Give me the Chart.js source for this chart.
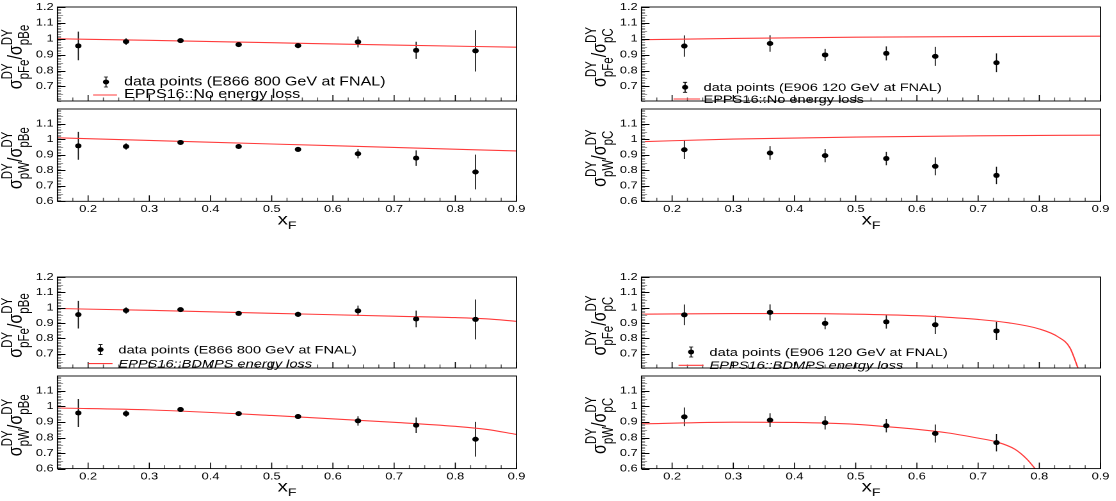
<!DOCTYPE html>
<html>
<head>
<meta charset="utf-8">
<script src="https://cdn.jsdelivr.net/npm/chart.js@4.4.1/dist/chart.umd.min.js"></script>
<style>
  html, body { margin: 0; padding: 0; background: #fff; }
  #wrap { position: relative; width: 1116px; height: 501px; overflow: hidden; }
  canvas { position: absolute; transform-origin: 0 0; }
</style>
</head>
<body>
<div id="wrap"></div>
<script>
const FONT = '"Liberation Sans", Arial, Helvetica, sans-serif';
const S = 1.28;     // the original picture is stretched sideways
const AXW = 57.5;   // room left of each frame for labels + title (page px)

// tick labels
const xTicks = [0.2, 0.3, 0.4, 0.5, 0.6, 0.7, 0.8, 0.9];
const yTicks = [0.6, 0.7, 0.8, 0.9, 1.0, 1.1, 1.2];

// E866, 800 GeV at FNAL
const x866 = [0.184, 0.262, 0.351, 0.446, 0.543, 0.641, 0.736, 0.833];
const feBe = [0.955, 0.982, 0.988, 0.963, 0.957, 0.980, 0.927, 0.924];
const feBeErr = [0.090, 0.021, 0.012, 0.010, 0.017, 0.034, 0.054, 0.130];
const wBe = [0.958, 0.954, 0.980, 0.954, 0.935, 0.907, 0.879, 0.789];
const wBeErr = [0.090, 0.021, 0.012, 0.011, 0.016, 0.030, 0.050, 0.112];

// E906, 120 GeV at FNAL
const x906 = [0.22, 0.36, 0.45, 0.55, 0.63, 0.73];
const feC = [0.954, 0.970, 0.898, 0.908, 0.889, 0.849];
const feCErr = [0.067, 0.052, 0.038, 0.044, 0.060, 0.059];
const wC = [0.933, 0.912, 0.895, 0.876, 0.826, 0.767];
const wCErr = [0.060, 0.044, 0.043, 0.043, 0.058, 0.056];

// EPPS16, no energy loss
const xNoLoss = [0.15, 0.3, 0.5, 0.7, 0.9];
const noLossFeBe = [1.0, 0.99, 0.975, 0.96, 0.947];
const noLossWBe = [1.01, 0.993, 0.97, 0.948, 0.925];
const noLossFeC = [0.994, 1.002, 1.01, 1.014, 1.016];
const noLossWC = [0.985, 1.002, 1.015, 1.023, 1.027];

// EPPS16 + BDMPS energy loss
const xBd866 = [0.15, 0.3, 0.5, 0.7, 0.8, 0.85, 0.9];
const bdFeBe = [0.995, 0.983, 0.964, 0.945, 0.936, 0.928, 0.912];
const bdWBe = [0.99, 0.978, 0.942, 0.898, 0.872, 0.853, 0.82];
const xBdFeC = [0.15, 0.3, 0.4, 0.5, 0.6, 0.65, 0.7, 0.75, 0.8, 0.83, 0.85, 0.863];
const bdFeC = [0.958, 0.962, 0.962, 0.958, 0.948, 0.938, 0.924, 0.902, 0.862, 0.812, 0.74, 0.61];
const xBdWC = [0.15, 0.3, 0.4, 0.5, 0.55, 0.6, 0.65, 0.7, 0.73, 0.76, 0.78, 0.793];
const bdWC = [0.888, 0.899, 0.897, 0.885, 0.87, 0.853, 0.83, 0.796, 0.772, 0.725, 0.66, 0.6];

const pts = (xs, ys) => xs.map((v, i) => ({ x: v, y: ys[i] }));
const fmt = v => Math.abs(v - 1) < 1e-9 ? '1' : v.toFixed(1);

// rotated y title  sigma^DY_num / sigma^DY_den
function yTitle(ctx, x, y, num, den, size) {
  const small = size * 0.72;
  const big = size + 'px ' + FONT, sm = small + 'px ' + FONT;
  ctx.save();
  ctx.translate(x, y);
  ctx.rotate(-Math.PI / 2);
  ctx.fillStyle = '#000';
  ctx.textAlign = 'left';
  ctx.textBaseline = 'alphabetic';
  ctx.font = big;
  const wSig = ctx.measureText('σ').width, wSl = ctx.measureText('/').width;
  ctx.font = sm;
  const wDY = ctx.measureText('DY').width;
  const wN = Math.max(wDY, ctx.measureText(num).width);
  const wD = Math.max(wDY, ctx.measureText(den).width);
  let t = -(2 * wSig + wN + wD + wSl) / 2;
  ctx.font = big; ctx.fillText('σ', t, 0); t += wSig;
  ctx.font = sm; ctx.fillText('DY', t, -size * 0.48); ctx.fillText(num, t, size * 0.32); t += wN;
  ctx.font = big; ctx.fillText('/', t, 0); t += wSl;
  ctx.fillText('σ', t, 0); t += wSig;
  ctx.font = sm; ctx.fillText('DY', t, -size * 0.48); ctx.fillText(den, t, size * 0.32);
  ctx.restore();
}

function panel(p) {
  const left = p.L - AXW;
  const top = p.T - 8;
  const w = Math.round((p.R - left + 16) / S);
  const xAxisH = p.lower ? 34 : 0;
  const h = Math.round(p.B - p.T + 8 + xAxisH + 2);
  const padBottom = h - 8 - (p.B - p.T) - xAxisH;
  const cx = v => (v - left) / S;
  const cy = v => v - top;

  const cv = document.createElement('canvas');
  cv.width = w; cv.height = h;
  cv.style.left = left + 'px';
  cv.style.top = top + 'px';
  cv.style.transform = 'scaleX(' + S + ')';
  document.getElementById('wrap').appendChild(cv);

  const deco = {
    id: 'deco',
    beforeDatasetsDraw(chart) {
      const { ctx, chartArea: a, scales: { x, y } } = chart;
      ctx.save();
      ctx.beginPath(); ctx.rect(a.left, a.top, a.right - a.left, a.bottom - a.top); ctx.clip();
      ctx.strokeStyle = '#111'; ctx.lineWidth = 0.85;
      p.px.forEach((xv, i) => {
        const xx = x.getPixelForValue(xv);
        ctx.beginPath();
        ctx.moveTo(xx, y.getPixelForValue(p.py[i] - p.pe[i]));
        ctx.lineTo(xx, y.getPixelForValue(p.py[i] + p.pe[i]));
        ctx.stroke();
      });
      ctx.restore();
    },
    afterDraw(chart) {
      const { ctx, chartArea: a, scales: { x, y } } = chart;
      ctx.save();
      // y ticks, inside
      for (let k = Math.ceil(p.ymin * 100 - 1e-6); k <= Math.floor(p.ymax * 100 + 1e-6); k++) {
        const yy = Math.round(y.getPixelForValue(k / 100)) + 0.5;
        const major = k % 10 === 0, mid = k % 5 === 0;
        ctx.strokeStyle = major ? '#000' : '#999';
        ctx.lineWidth = 1;
        ctx.beginPath();
        ctx.moveTo(a.left, yy);
        ctx.lineTo(a.left + (major ? 8 : mid ? 5.5 : 3.5) / S, yy);
        ctx.stroke();
      }
      // x ticks along the bottom of the frame
      for (let k = Math.ceil(p.xmin * 40 - 1e-6); k <= Math.floor(p.xmax * 40 + 1e-6); k++) {
        const xx = x.getPixelForValue(k / 40);
        const major = k % 4 === 0;
        ctx.strokeStyle = major ? '#000' : '#555';
        ctx.lineWidth = 0.8;
        ctx.beginPath();
        ctx.moveTo(xx, a.bottom);
        ctx.lineTo(xx, a.bottom - (major ? 6 : 3.5));
        ctx.stroke();
      }
      // frame
      ctx.strokeStyle = '#000';
      ctx.lineWidth = 0.9;
      ctx.strokeRect(a.left, a.top, a.right - a.left, a.bottom - a.top);

      yTitle(ctx, cx(p.L - 35.5), (a.top + a.bottom) / 2 + 3, p.num, p.den, 16);

      if (p.lower) {
        ctx.fillStyle = '#000';
        ctx.textBaseline = 'alphabetic';
        ctx.font = '16px ' + FONT;
        const wx = ctx.measureText('x').width;
        ctx.font = '11px ' + FONT;
        const wf = ctx.measureText('F').width;
        const x0 = (a.left + a.right) / 2 - (wx + wf) / 2;
        const yb = a.bottom + 23;
        ctx.font = '16px ' + FONT; ctx.fillText('x', x0, yb);
        ctx.font = '11px ' + FONT; ctx.fillText('F', x0 + wx, yb + 4.5);
      }

      const g = p.legend;
      if (g) {
        // marker with error bar
        const mx = cx(g.mx), my = cy(g.my);
        ctx.strokeStyle = '#000'; ctx.lineWidth = 0.85;
        ctx.beginPath();
        ctx.moveTo(mx, my - 5); ctx.lineTo(mx, my + 5);
        ctx.moveTo(mx - 1.6, my - 5); ctx.lineTo(mx + 1.6, my - 5);
        ctx.moveTo(mx - 1.6, my + 5); ctx.lineTo(mx + 1.6, my + 5);
        ctx.stroke();
        ctx.fillStyle = '#000';
        ctx.beginPath(); ctx.arc(mx, my, 2.4, 0, Math.PI * 2); ctx.fill();
        // line sample
        ctx.strokeStyle = '#ff3b3b'; ctx.lineWidth = 1.1;
        ctx.beginPath(); ctx.moveTo(cx(g.lx1), cy(g.ly)); ctx.lineTo(cx(g.lx2), cy(g.ly)); ctx.stroke();
        ctx.fillStyle = '#000';
        ctx.textAlign = 'left';
        ctx.textBaseline = 'alphabetic';
        ctx.font = g.size + 'px ' + FONT;
        ctx.fillText(g.t1, cx(g.tx), cy(g.b1));
        ctx.font = (g.italic ? 'italic ' : '') + g.size + 'px ' + FONT;
        ctx.fillText(g.t2, cx(g.tx), cy(g.b2));
      }
      ctx.restore();
    }
  };

  new Chart(cv, {
    type: 'scatter',
    data: {
      datasets: [
        {
          data: pts(p.px, p.py), showLine: false, order: 0,
          pointRadius: 2.5, pointBorderWidth: 0,
          pointBackgroundColor: '#000', pointBorderColor: '#000'
        },
        {
          data: pts(p.cxs, p.cys), showLine: true, order: 1,
          borderColor: '#ff3b3b', borderWidth: 1.1, pointRadius: 0,
          cubicInterpolationMode: 'monotone'
        }
      ]
    },
    options: {
      responsive: false,
      animation: false,
      devicePixelRatio: 2,
      events: [],
      layout: { padding: { top: 8, right: w - (p.R - left) / S, bottom: padBottom, left: 0 } },
      plugins: { legend: { display: false }, tooltip: { enabled: false } },
      scales: {
        x: {
          type: 'linear', min: p.xmin, max: p.xmax, display: p.lower,
          afterFit: s => { s.height = xAxisH; },
          afterBuildTicks: s => { s.ticks = xTicks.map(v => ({ value: v })); },
          grid: { display: false, drawTicks: false },
          border: { display: false },
          ticks: {
            autoSkip: false, maxRotation: 0, padding: 2, color: '#000',
            font: { family: FONT, size: 10 }, callback: v => fmt(v)
          }
        },
        y: {
          type: 'linear', min: p.ymin, max: p.ymax,
          afterFit: s => { s.width = AXW / S; },
          afterBuildTicks: s => {
            s.ticks = yTicks.filter(v => v >= p.ymin - 1e-9 && v <= p.ymax + 1e-9).map(v => ({ value: v }));
          },
          grid: { display: false, drawTicks: false },
          border: { display: false },
          ticks: {
            autoSkip: false, padding: 3, color: '#000',
            font: { family: FONT, size: 10 }, callback: v => fmt(v)
          }
        }
      }
    },
    plugins: [deco]
  });
}

const UP = { ymin: 0.608, ymax: 1.2, xmin: 0.15, xmax: 0.9, lower: false };
const LO = { ymin: 0.6, ymax: 1.196, xmin: 0.15, xmax: 0.9, lower: true };

// top left: E866, no energy loss
panel(Object.assign({}, UP, {
  L: 57.5, T: 6, R: 516.5, B: 107.7, num: 'pFe', den: 'pBe',
  px: x866, py: feBe, pe: feBeErr, cxs: xNoLoss, cys: noLossFeBe,
  legend: { size: 12.5, mx: 106, my: 82, lx1: 93, lx2: 117, ly: 95, tx: 124, b1: 85.5, b2: 98,
            t1: 'data points (E866 800 GeV at FNAL)', t2: 'EPPS16::No energy loss', italic: false }
}));
panel(Object.assign({}, LO, {
  L: 57.5, T: 107.7, R: 516.5, B: 201, num: 'pW', den: 'pBe',
  px: x866, py: wBe, pe: wBeErr, cxs: xNoLoss, cys: noLossWBe
}));

// top right: E906, no energy loss
panel(Object.assign({}, UP, {
  L: 641, T: 6, R: 1100, B: 107.7, num: 'pFe', den: 'pC',
  px: x906, py: feC, pe: feCErr, cxs: xNoLoss, cys: noLossFeC,
  legend: { size: 11.4, mx: 684.6, my: 87.3, lx1: 673, lx2: 699.5, ly: 99, tx: 703, b1: 91, b2: 103,
            t1: 'data points (E906 120 GeV at FNAL)', t2: 'EPPS16::No energy loss', italic: false }
}));
panel(Object.assign({}, LO, {
  L: 641, T: 107.7, R: 1100, B: 201, num: 'pW', den: 'pC',
  px: x906, py: wC, pe: wCErr, cxs: xNoLoss, cys: noLossWC
}));

// bottom left: E866, BDMPS energy loss
panel(Object.assign({}, UP, {
  L: 57.5, T: 275.7, R: 516.5, B: 374.7, num: 'pFe', den: 'pBe',
  px: x866, py: feBe, pe: feBeErr, cxs: xBd866, cys: bdFeBe,
  legend: { size: 11.4, mx: 100.5, my: 349.3, lx1: 88.4, lx2: 112.5, ly: 363.3, tx: 118.4, b1: 353, b2: 367,
            t1: 'data points (E866 800 GeV at FNAL)', t2: 'EPPS16::BDMPS energy loss', italic: true }
}));
panel(Object.assign({}, LO, {
  L: 57.5, T: 374.7, R: 516.5, B: 468.3, num: 'pW', den: 'pBe',
  px: x866, py: wBe, pe: wBeErr, cxs: xBd866, cys: bdWBe
}));

// bottom right: E906, BDMPS energy loss
panel(Object.assign({}, UP, {
  L: 641, T: 275.7, R: 1100, B: 374.7, num: 'pFe', den: 'pC',
  px: x906, py: feC, pe: feCErr, cxs: xBdFeC, cys: bdFeC,
  legend: { size: 11.4, mx: 690.6, my: 351.7, lx1: 678, lx2: 703, ly: 365, tx: 709, b1: 355.5, b2: 368.5,
            t1: 'data points (E906 120 GeV at FNAL)', t2: 'EPPS16::BDMPS energy loss', italic: true }
}));
panel(Object.assign({}, LO, {
  L: 641, T: 374.7, R: 1100, B: 468.3, num: 'pW', den: 'pC',
  px: x906, py: wC, pe: wCErr, cxs: xBdWC, cys: bdWC
}));
</script>
</body>
</html>
